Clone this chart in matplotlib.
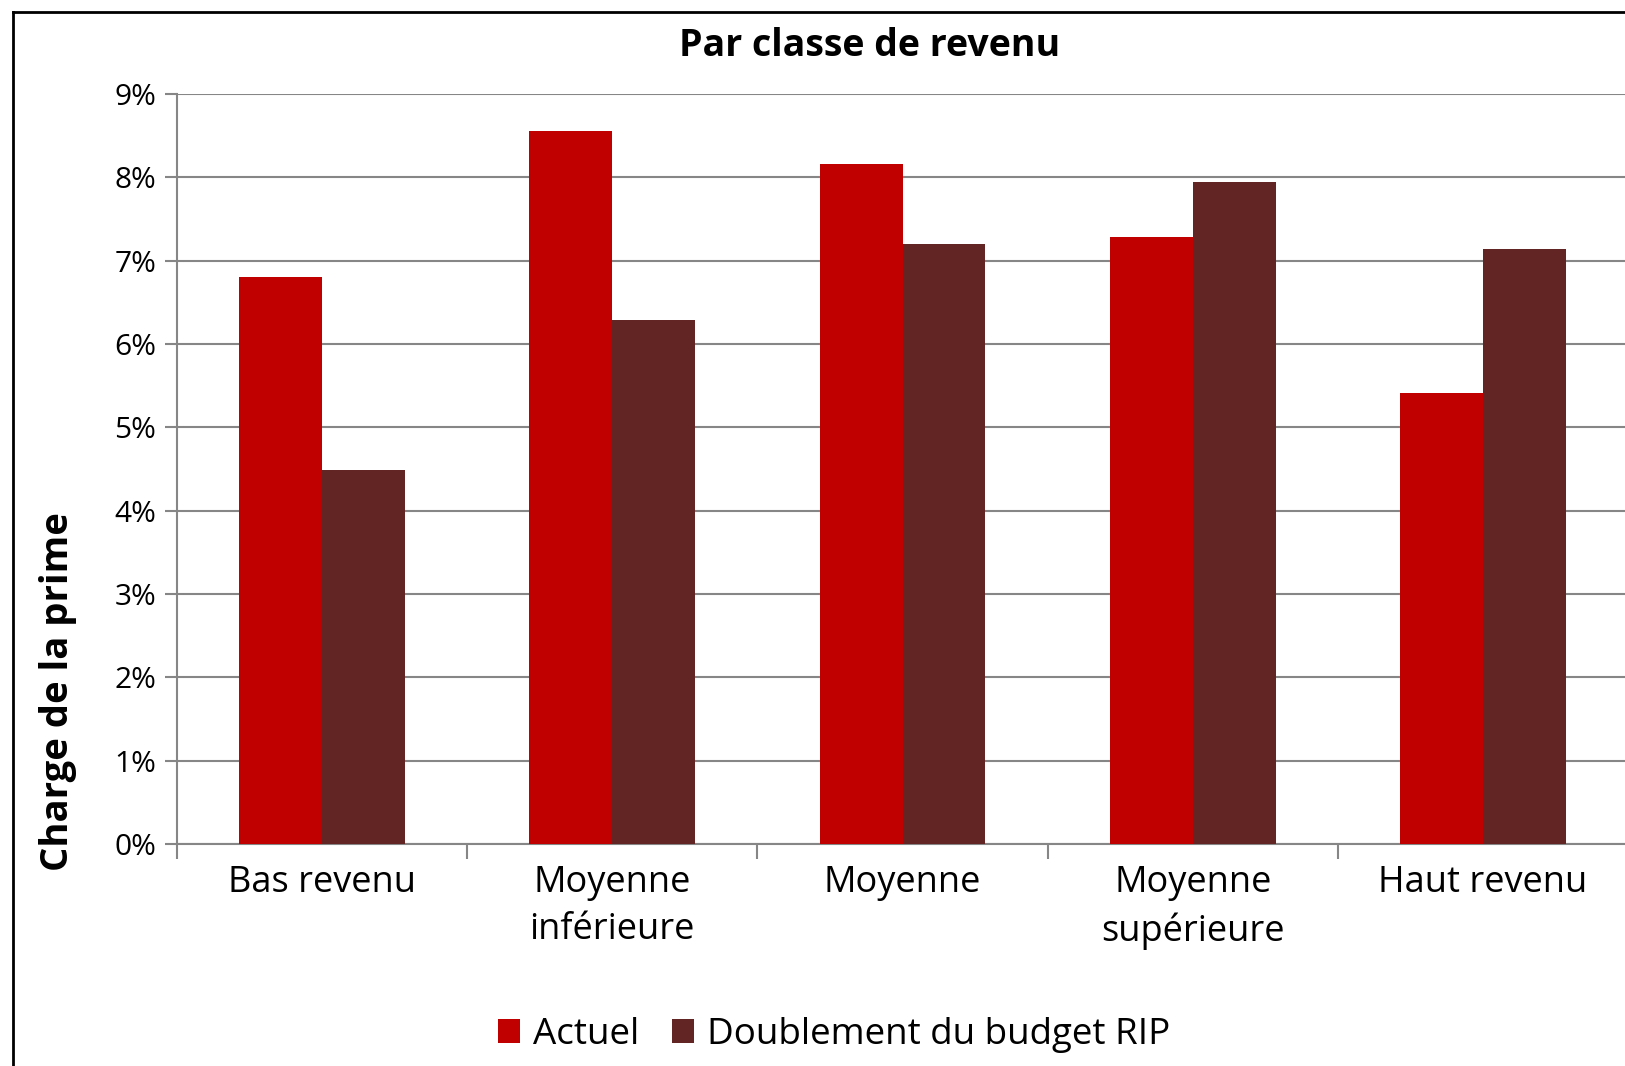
import matplotlib
matplotlib.use("Agg")
import matplotlib.pyplot as plt
from matplotlib.lines import Line2D
import numpy as np

# Data
categories = ["Bas revenu", "Moyenne\ninférieure", "Moyenne", "Moyenne\nsupérieure", "Haut revenu"]
actuel = [6.80, 8.56, 8.16, 7.28, 5.41]
doublement = [4.49, 6.29, 7.20, 7.94, 7.14]
series_names = ["Actuel", "Doublement du budget RIP"]
yticks = list(range(0, 10))

plt.rcParams['font.family'] = ['Open Sans', 'DejaVu Sans']

W, H = 1625, 1066
fig = plt.figure(figsize=(W / 100, H / 100), dpi=100)

# axes placed in pixel coordinates of the reference
left, right, top, bottom = 177, 1628, 94, 844
ax = fig.add_axes([left / W, 1 - bottom / H, (right - left) / W, (bottom - top) / H])

x = np.arange(len(categories)) + 0.5
bw = 0.286
c1, c2 = "#C00000", "#632523"
ax.bar(x - bw / 2, actuel, width=bw, color=c1, zorder=3, label=series_names[0])
ax.bar(x + bw / 2, doublement, width=bw, color=c2, zorder=3, label=series_names[1])

ax.set_xlim(0, len(categories))
ax.set_ylim(0, 9)
ax.set_yticks(yticks)
ax.set_yticklabels([f"{v}%" for v in yticks], fontsize=21.5)
ax.set_xticks(np.arange(len(categories) + 1))
ax.set_xticklabels([])
ax.set_xticks(x, minor=True)
ax.set_xticklabels(categories, minor=True, fontsize=26, linespacing=1.4)
ax.tick_params(axis="x", which="minor", length=0, pad=15)
ax.tick_params(axis="x", which="major", length=11, width=1.5, color="#868686")
ax.tick_params(axis="y", length=9, width=1.5, color="#868686", pad=6)

ax.grid(axis="y", color="#868686", linewidth=1.5, zorder=0)
for s in ["top", "right"]:
    ax.spines[s].set_visible(False)
for s in ["left", "bottom"]:
    ax.spines[s].set_color("#868686")
    ax.spines[s].set_linewidth(1.5)

fig.text(870 / W, 1 - 46 / H, "Par classe de revenu", ha="center", va="center",
         fontsize=27, fontweight="bold")
fig.text(58 / W, 1 - 692 / H, "Charge de la prime", ha="center", va="center",
         rotation=90, fontsize=27.5, fontweight="bold")

leg = fig.legend(loc="center", bbox_to_anchor=(834 / W, 1 - 1035 / H), ncol=2,
                 frameon=False, fontsize=26.5, handlelength=0.6, handleheight=0.6,
                 handletextpad=0.35, columnspacing=0.9)

# outer frame (left and top edges visible in the reference)
fig.add_artist(Line2D([13 / W, 13 / W], [0, 1 - 12 / H], color="black", linewidth=2,
                      transform=fig.transFigure))
fig.add_artist(Line2D([13 / W, 1], [1 - 12 / H, 1 - 12 / H], color="black", linewidth=2,
                      transform=fig.transFigure))

fig.savefig("out.png", dpi=100)
